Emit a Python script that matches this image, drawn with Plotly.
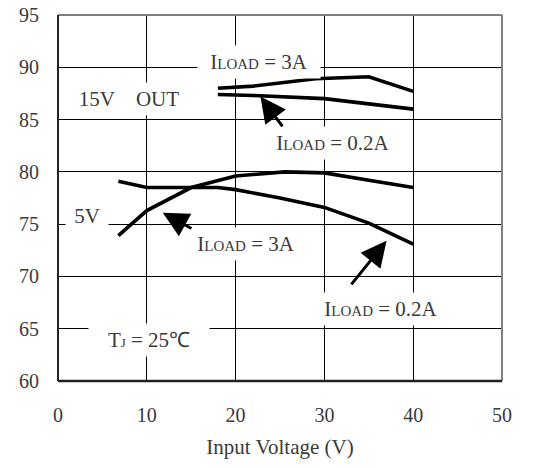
import plotly.graph_objects as go

# 15V output
v15_3a_x = [18, 22, 29, 35, 40]
v15_3a_y = [88.0, 88.2, 88.9, 89.1, 87.7]
v15_02a_x = [18, 22, 30, 35, 40]
v15_02a_y = [87.4, 87.3, 87.0, 86.5, 86.0]
# 5V output
v5_3a_x = [6.8, 10, 15, 20, 25.5, 30, 35, 40]
v5_3a_y = [73.9, 76.3, 78.5, 79.6, 80.0, 79.9, 79.2, 78.5]
v5_02a_x = [6.8, 10, 18, 20, 25, 30, 35, 40]
v5_02a_y = [79.1, 78.5, 78.5, 78.3, 77.5, 76.6, 75.1, 73.1]

x_ticks = [0, 10, 20, 30, 40, 50]
y_ticks = [60, 65, 70, 75, 80, 85, 90, 95]

FONT = "Liberation Serif"
TXT = "#3a3a3a"

fig = go.Figure()
for xs, ys in [(v15_3a_x, v15_3a_y), (v15_02a_x, v15_02a_y),
               (v5_3a_x, v5_3a_y), (v5_02a_x, v5_02a_y)]:
    fig.add_trace(go.Scatter(x=xs, y=ys, mode="lines",
                             line=dict(color="black", width=3.6),
                             showlegend=False, hoverinfo="skip"))

def iload(val):
    return "I<span style='font-size:15px'>LOAD</span> = " + val

# text, x, y, box width (px)
labels = [
    (iload("3A"), 22.6, 90.5, 120),
    ("15V&nbsp;&nbsp;&nbsp;&nbsp;OUT", 8.0, 87.0, 112),
    (iload("0.2A"), 31.0, 82.8, 126),
    ("5V", 3.3, 75.8, 40),
    (iload("3A"), 21.2, 73.1, 112),
    (iload("0.2A"), 36.4, 66.9, 126),
    ("T<span style='font-size:13px'>J</span> = 25℃", 10.2, 63.9, 118),
]
ann = []
for t, x, y, w in labels:
    ann.append(dict(x=x, y=y, xref="x", yref="y", text=t, showarrow=False,
                    font=dict(family=FONT, size=21, color=TXT),
                    bgcolor="white", width=w, height=30))

arrows = [
    (22.8, 87.2, 25.4, 84.2),
    (11.8, 76.1, 15.2, 74.5),
    (37.0, 73.4, 32.9, 69.1),
]
for x, y, ax, ay in arrows:
    ann.append(dict(x=x, y=y, ax=ax, ay=ay, xref="x", yref="y",
                    axref="x", ayref="y", text="", showarrow=True,
                    arrowhead=2, arrowsize=1.7, arrowwidth=3,
                    arrowcolor="black"))

fig.update_layout(
    width=543, height=468,
    margin=dict(l=58, r=41, t=15, b=87),
    paper_bgcolor="white", plot_bgcolor="white",
    annotations=ann,
    xaxis=dict(range=[0, 50], tickvals=x_ticks, showgrid=True,
               gridcolor="black", gridwidth=1, zeroline=False,
               showline=False, ticks="", ticklabelstandoff=20,
               automargin=False,
               tickfont=dict(family=FONT, size=20, color=TXT),
               title=dict(text="Input Voltage (V)",
                          font=dict(family=FONT, size=21, color=TXT),
                          standoff=14)),
    yaxis=dict(range=[60, 95], tickvals=y_ticks, showgrid=True,
               gridcolor="black", gridwidth=1, zeroline=False,
               showline=False, ticks="", ticklabelstandoff=18,
               ticklabeloverflow="allow", automargin=False,
               tickfont=dict(family=FONT, size=20, color=TXT)),
    shapes=[
        dict(type="line", xref="paper", yref="paper", x0=0, x1=1, y0=1, y1=1,
             line=dict(color="#808080", width=2)),
        dict(type="line", xref="paper", yref="paper", x0=1, x1=1, y0=0, y1=1,
             line=dict(color="#808080", width=2)),
        dict(type="line", xref="paper", yref="paper", x0=0, x1=0, y0=0, y1=1,
             line=dict(color="#222222", width=2)),
        dict(type="line", xref="paper", yref="paper", x0=0, x1=1, y0=0, y1=0,
             line=dict(color="#222222", width=2.5)),
    ],
)

fig.write_html("out.html", config={"displayModeBar": False},
               post_script="document.body.style.margin='0';")
